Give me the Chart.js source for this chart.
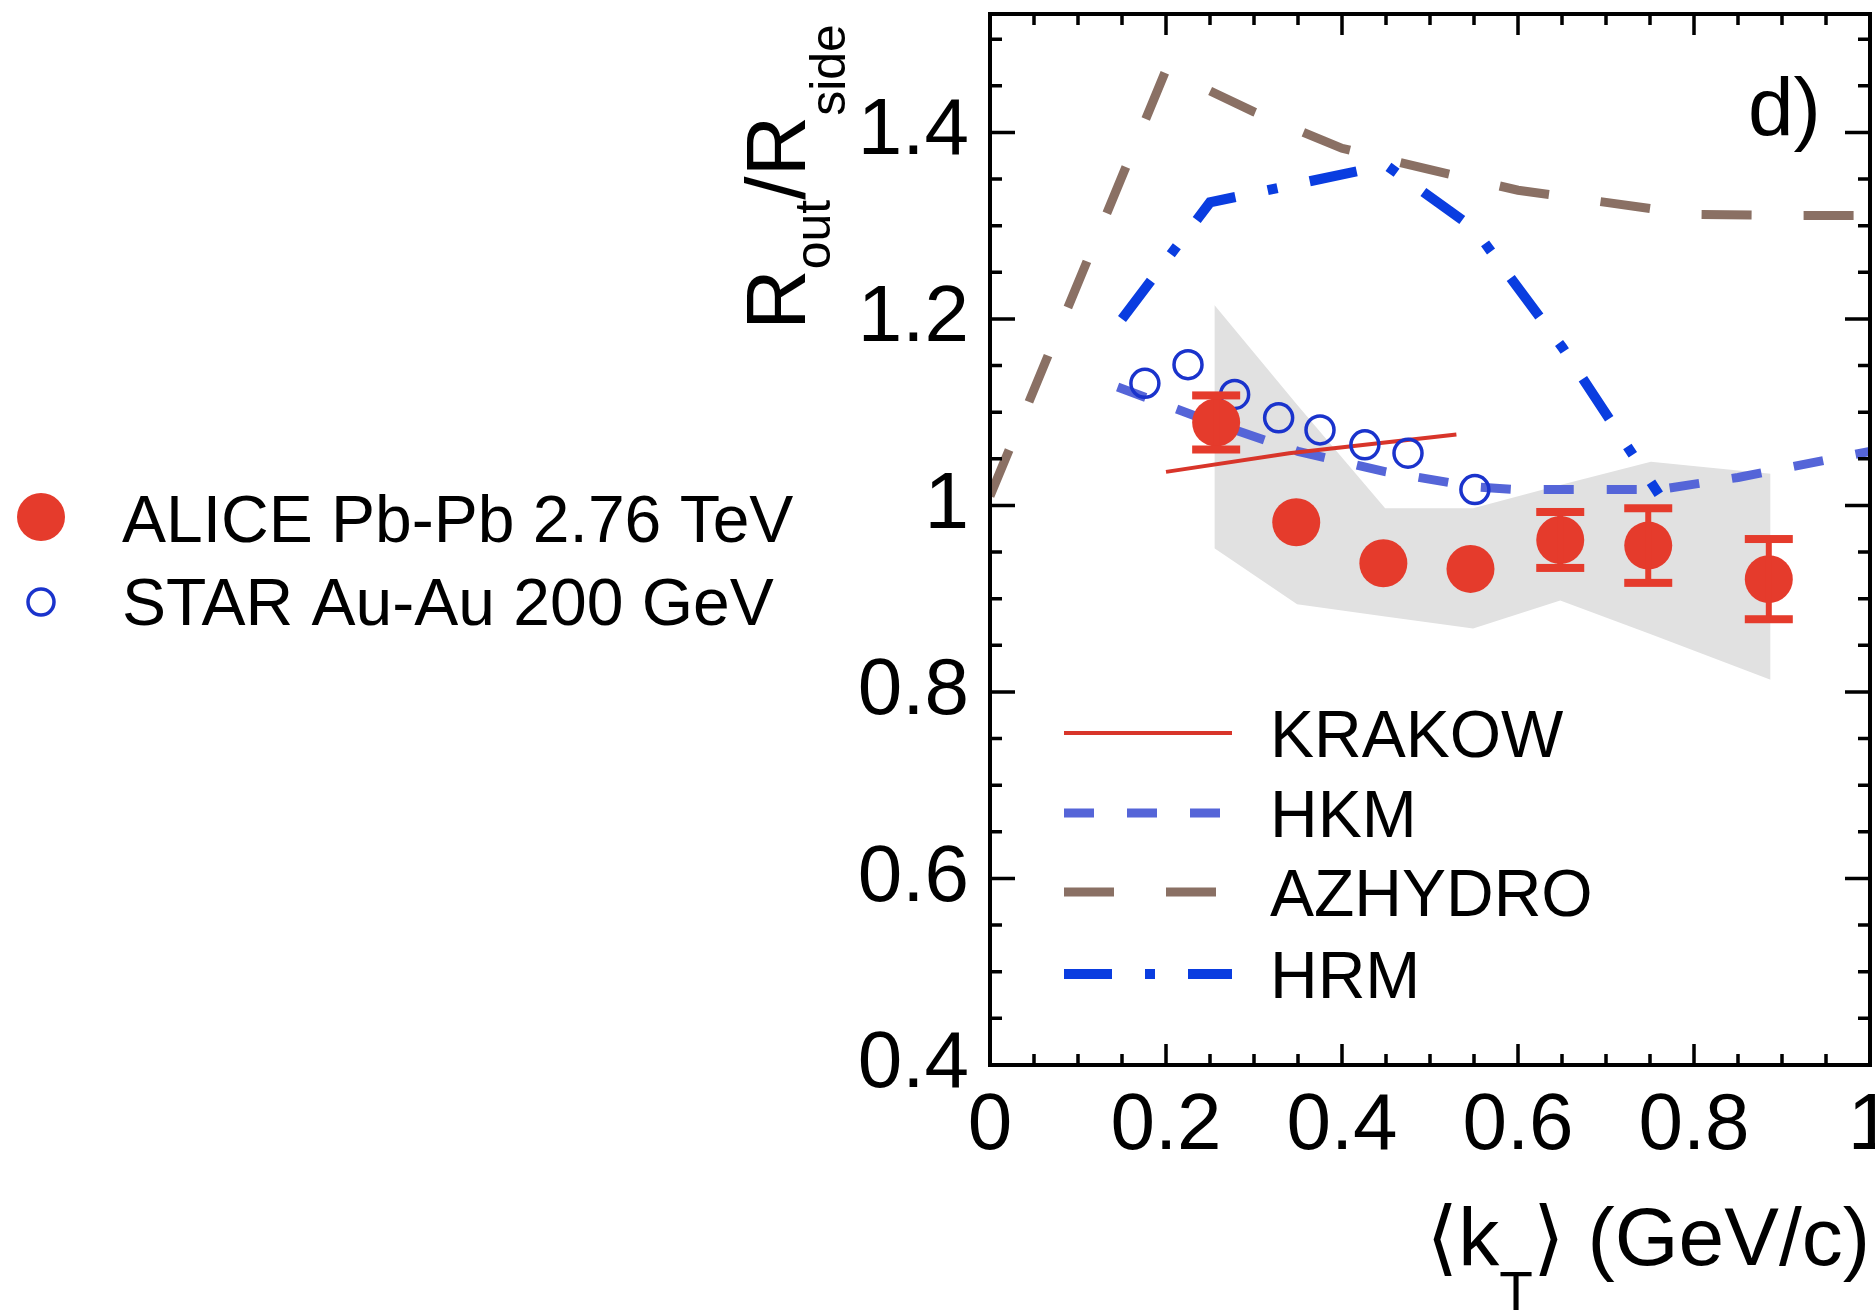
<!DOCTYPE html>
<html>
<head>
<meta charset="utf-8">
<script src="https://cdn.jsdelivr.net/npm/chart.js@4.4.1/dist/chart.umd.min.js"></script>
<style>
  html, body { margin: 0; padding: 0; background: #fff; }
</style>
</head>
<body>
<canvas id="myChart" width="1875" height="1310"></canvas>
<script>
// values
const aliceKt    = [0.257, 0.348, 0.447, 0.546, 0.648, 0.748, 0.885];
const aliceRatio = [1.089, 0.982, 0.938, 0.932, 0.963, 0.957, 0.921];
const aliceErr   = [0.029, 0, 0, 0, 0.030, 0.040, 0.043];

const bandKt   = [0.255, 0.349, 0.449, 0.549, 0.648, 0.751, 0.887];
const bandHigh = [1.215, 1.108, 0.997, 0.997, 1.022, 1.047, 1.034];
const bandLow  = [0.954, 0.894, 0.881, 0.868, 0.898, 0.862, 0.813];

const starKt    = [0.176, 0.225, 0.278, 0.328, 0.375, 0.426, 0.475, 0.551];
const starRatio = [1.131, 1.151, 1.119, 1.094, 1.081, 1.065, 1.056, 1.017];

const krakowKt    = [0.2, 0.34, 0.53];
const krakowRatio = [1.036, 1.056, 1.076];

const hkmKt    = [0.145, 0.25, 0.35, 0.45, 0.55, 0.6, 0.76, 0.85, 1.0];
const hkmRatio = [1.127, 1.09, 1.058, 1.036, 1.02, 1.017, 1.017, 1.03, 1.058];

const azKt    = [0, 0.2, 0.3, 0.4, 0.5, 0.6, 0.7, 0.8, 0.9, 1.0];
const azRatio = [1.01, 1.467, 1.422, 1.383, 1.36, 1.338, 1.325, 1.312, 1.311, 1.311];

const hrmKt    = [0.15, 0.25, 0.45, 0.55, 0.65, 0.76];
const hrmRatio = [1.2, 1.325, 1.365, 1.297, 1.17, 1.012];

const xTicks = [0, 0.2, 0.4, 0.6, 0.8, 1];
const xTickLabels = ['0', '0.2', '0.4', '0.6', '0.8', '1'];
const yTicks = [0.4, 0.6, 0.8, 1, 1.2, 1.4];
const yTickLabels = ['0.4', '0.6', '0.8', '1', '1.2', '1.4'];

const FONT = "'Liberation Sans', Arial, 'DejaVu Sans', sans-serif";
const RED = '#e53b2c';
const STAR_BLUE = '#1a33cc';

function pts(xs, ys) {
    return xs.map((x, i) => ({ x: x, y: ys[i] }));
}

// frame, inward ticks, titles, legends, error bars
const decor = {
    id: 'decor',
    afterDatasetsDraw(chart) {
        const { ctx, scales: { x, y } } = chart;
        ctx.save();
        ctx.strokeStyle = RED;
        ctx.fillStyle = RED;
        aliceKt.forEach((k, i) => {
            const e = aliceErr[i];
            if (!e) return;
            const px = x.getPixelForValue(k);
            const top = y.getPixelForValue(aliceRatio[i] + e);
            const bot = y.getPixelForValue(aliceRatio[i] - e);
            ctx.lineWidth = 6;
            ctx.beginPath();
            ctx.moveTo(px, top); ctx.lineTo(px, bot);
            ctx.stroke();
            ctx.fillRect(px - 24, top - 4, 48, 8);
            ctx.fillRect(px - 24, bot - 4, 48, 8);
        });
        ctx.restore();
    },
    afterDraw(chart) {
        const { ctx, chartArea: a, scales: { x, y } } = chart;
        ctx.save();
        ctx.strokeStyle = '#000';
        ctx.lineWidth = 4;
        ctx.strokeRect(a.left, a.top, a.right - a.left, a.bottom - a.top);

        ctx.lineWidth = 3.5;
        ctx.beginPath();
        for (let i = 0; i <= 20; i++) {
            const px = x.getPixelForValue(i * 0.05);
            const len = i % 4 === 0 ? 21 : 11;
            ctx.moveTo(px, a.bottom); ctx.lineTo(px, a.bottom - len);
            ctx.moveTo(px, a.top); ctx.lineTo(px, a.top + len);
        }
        for (let i = 8; i <= 30; i++) {
            const py = y.getPixelForValue(i * 0.05);
            const len = i % 4 === 0 ? 25 : 12;
            ctx.moveTo(a.left, py); ctx.lineTo(a.left + len, py);
            ctx.moveTo(a.right, py); ctx.lineTo(a.right - len, py);
        }
        ctx.stroke();

        ctx.fillStyle = '#000';
        ctx.textBaseline = 'alphabetic';

        // panel label
        ctx.font = '82px ' + FONT;
        ctx.textAlign = 'left';
        ctx.fillText('d)', 1748, 135);

        // x title
        const big = '82px ' + FONT, small = '55px ' + FONT;
        ctx.font = big;
        const w1 = ctx.measureText('\u27E8k').width;
        const w3 = ctx.measureText('\u27E9 (GeV/c)').width;
        ctx.font = small;
        const w2 = ctx.measureText('T').width;
        let tx = 1870 - (w1 + w2 + w3);
        ctx.font = big;
        ctx.fillText('\u27E8k', tx, 1265);
        ctx.font = small;
        ctx.fillText('T', tx + w1, 1310);
        ctx.font = big;
        ctx.fillText('\u27E9 (GeV/c)', tx + w1 + w2, 1265);

        // y title
        ctx.save();
        ctx.translate(805, 330);
        ctx.rotate(-Math.PI / 2);
        const yBig = '84px ' + FONT, ySmall = '50px ' + FONT;
        let u = 0;
        const parts = [['R', yBig, 0], ['out', ySmall, 25], ['/', yBig, 0], ['R', yBig, 0], ['side', ySmall, 40]];
        parts.forEach(p => {
            ctx.font = p[1];
            ctx.fillText(p[0], u, p[2]);
            u += ctx.measureText(p[0]).width;
        });
        ctx.restore();

        // legend inside the frame
        const rows = [['KRAKOW', 733], ['HKM', 813], ['AZHYDRO', 892], ['HRM', 974]];
        rows.forEach(r => {
            const ds = chart.data.datasets.find(d => d.label === r[0]);
            ctx.save();
            ctx.strokeStyle = ds.borderColor;
            ctx.lineWidth = ds.borderWidth;
            ctx.setLineDash(ds.borderDash || []);
            ctx.beginPath();
            ctx.moveTo(1064, r[1]); ctx.lineTo(1232, r[1]);
            ctx.stroke();
            ctx.restore();
            ctx.font = '66px ' + FONT;
            ctx.fillText(r[0], 1270, r[1] + 24);
        });

        // legend for the data, left of the frame
        ctx.fillStyle = RED;
        ctx.beginPath();
        ctx.arc(41, 517, 24, 0, Math.PI * 2);
        ctx.fill();
        ctx.strokeStyle = STAR_BLUE;
        ctx.lineWidth = 3.5;
        ctx.beginPath();
        ctx.arc(41, 602, 13, 0, Math.PI * 2);
        ctx.stroke();
        ctx.fillStyle = '#000';
        ctx.font = '66px ' + FONT;
        ctx.fillText('ALICE Pb-Pb 2.76 TeV', 122, 542);
        ctx.fillText('STAR Au-Au 200 GeV', 122, 625);
        ctx.restore();
    }
};

function veBieuDo() {
    const ctx = document.getElementById('myChart').getContext('2d');
    new Chart(ctx, {
        type: 'scatter',
        data: {
            datasets: [
                {
                    label: 'sys-high',
                    data: pts(bandKt, bandHigh),
                    showLine: true, borderWidth: 0, borderColor: 'rgba(0,0,0,0)',
                    pointRadius: 0, fill: false, order: 9
                },
                {
                    label: 'sys-low',
                    data: pts(bandKt, bandLow),
                    showLine: true, borderWidth: 0, borderColor: 'rgba(0,0,0,0)',
                    pointRadius: 0, fill: '-1', backgroundColor: '#e1e1e1', order: 8
                },
                {
                    label: 'AZHYDRO',
                    data: pts(azKt, azRatio),
                    showLine: true, borderColor: '#8a7064', borderWidth: 9,
                    borderDash: [50, 52], borderCapStyle: 'butt',
                    pointRadius: 0, fill: false, order: 6
                },
                {
                    label: 'HRM',
                    data: pts(hrmKt, hrmRatio),
                    showLine: true, borderColor: '#0a3de0', borderWidth: 10,
                    borderDash: [48, 33, 10, 33], borderCapStyle: 'butt',
                    pointRadius: 0, fill: false, order: 5
                },
                {
                    label: 'HKM',
                    data: pts(hkmKt, hkmRatio),
                    showLine: true, borderColor: '#5565d8', borderWidth: 9,
                    borderDash: [30, 33], borderCapStyle: 'butt',
                    pointRadius: 0, fill: false, order: 4
                },
                {
                    label: 'KRAKOW',
                    data: pts(krakowKt, krakowRatio),
                    showLine: true, borderColor: '#d8352a', borderWidth: 4,
                    pointRadius: 0, fill: false, order: 3
                },
                {
                    label: 'STAR Au-Au 200 GeV',
                    data: pts(starKt, starRatio),
                    showLine: false, pointRadius: 14,
                    pointBackgroundColor: 'rgba(0,0,0,0)',
                    pointBorderColor: STAR_BLUE, pointBorderWidth: 3.5, order: 1
                },
                {
                    label: 'ALICE Pb-Pb 2.76 TeV',
                    data: pts(aliceKt, aliceRatio),
                    showLine: false, pointRadius: 24,
                    pointBackgroundColor: RED, pointBorderWidth: 0, order: 0
                }
            ]
        },
        options: {
            responsive: false,
            animation: false,
            layout: { autoPadding: false, padding: { left: 860, right: 5, top: 14, bottom: 125 } },
            plugins: {
                legend: { display: false },
                tooltip: { enabled: false }
            },
            scales: {
                x: {
                    type: 'linear', min: 0, max: 1,
                    grid: { display: false }, border: { display: false },
                    afterBuildTicks: s => { s.ticks = xTicks.map(v => ({ value: v })); },
                    afterFit: s => { s.height = 120; s.paddingLeft = 0; s.paddingRight = 0; },
                    ticks: {
                        color: '#000', padding: 6, maxRotation: 0, autoSkip: false,
                        font: { family: FONT, size: 80 },
                        callback: v => xTickLabels[xTicks.indexOf(v)]
                    }
                },
                y: {
                    type: 'linear', min: 0.4, max: 1.527,
                    grid: { display: false }, border: { display: false },
                    afterBuildTicks: s => { s.ticks = yTicks.map(v => ({ value: v })); },
                    afterFit: s => { s.width = 130; s.paddingTop = 0; s.paddingBottom = 0; },
                    ticks: {
                        color: '#000', padding: 13, autoSkip: false,
                        font: { family: FONT, size: 80 },
                        callback: v => yTickLabels[yTicks.indexOf(v)]
                    }
                }
            }
        },
        plugins: [decor]
    });
}
veBieuDo();
</script>
</body>
</html>
